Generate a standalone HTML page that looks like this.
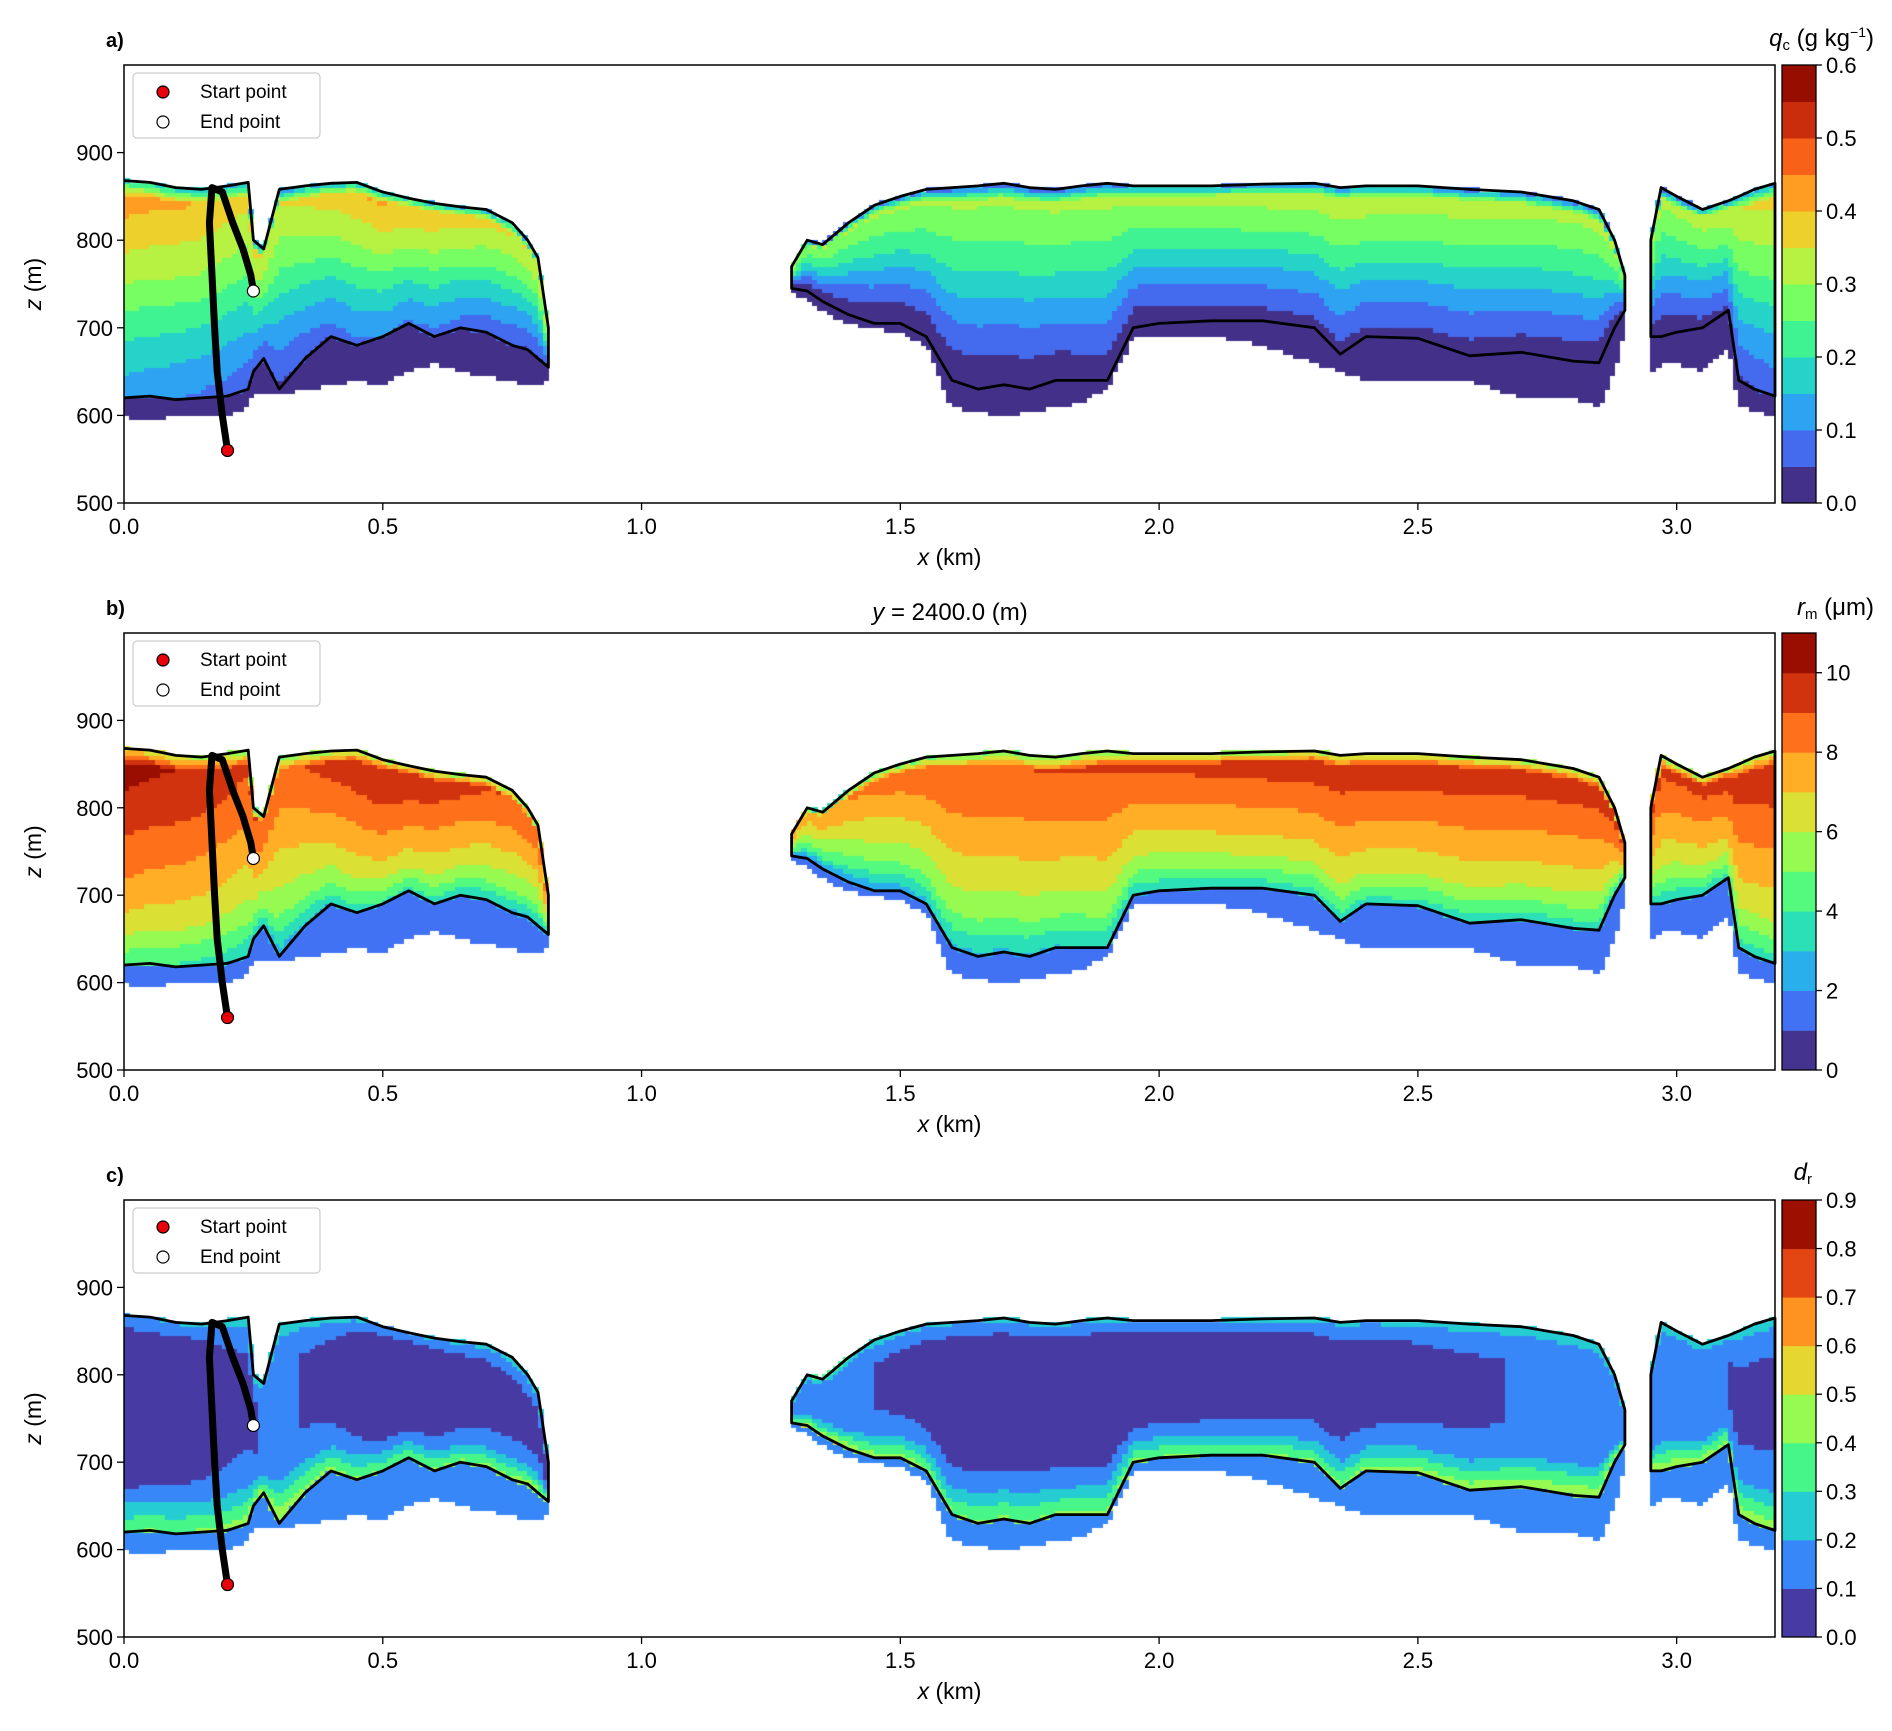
<!DOCTYPE html>
<html><head><meta charset="utf-8">
<style>
html,body{margin:0;padding:0;background:#fff;}
#wrap{position:relative;width:1892px;height:1731px;overflow:hidden;}
canvas,svg{position:absolute;left:0;top:0;}
text{font-family:"Liberation Sans","DejaVu Sans",sans-serif;fill:#000;}
</style></head>
<body>
<div id="wrap">
<canvas id="cv" width="1892" height="1731"></canvas>
<svg id="sv" width="1892" height="1731" xmlns="http://www.w3.org/2000/svg"></svg>
</div>
<script>
// ---- data ----
const seg1X=[0,0.05,0.1,0.15,0.2,0.24,0.25,0.27,0.3,0.35,0.4,0.45,0.5,0.55,0.6,0.65,0.7,0.75,0.78,0.8,0.82];
const seg1Top=[868,866,860,858,862,866,800,790,858,862,865,866,855,848,842,838,835,820,800,780,700];
const seg1Base=[620,622,618,620,622,630,650,665,630,665,690,680,690,705,690,700,695,680,675,665,655];
const seg1Haze=[598,595,600,598,600,610,625,625,625,630,635,640,635,650,660,650,645,640,635,635,640];
const seg2X=[1.29,1.32,1.35,1.4,1.45,1.5,1.55,1.6,1.65,1.7,1.75,1.8,1.85,1.9,1.95,2.0,2.1,2.2,2.3,2.35,2.4,2.5,2.6,2.7,2.8,2.85,2.88,2.9];
const seg2Top=[770,800,795,820,840,850,858,860,862,865,860,858,862,865,862,862,862,864,865,860,862,862,858,855,845,835,800,760];
const seg2Base=[745,742,730,715,705,705,690,640,630,635,630,640,640,640,700,705,708,708,700,670,690,688,668,672,662,660,700,720];
const seg2Haze=[740,735,720,705,700,695,680,610,605,600,605,610,615,630,690,690,690,680,660,650,640,640,640,620,620,610,650,700];
const seg3X=[2.95,2.97,3.0,3.05,3.1,3.12,3.15,3.19];
const seg3Top=[800,860,850,835,845,850,858,865];
const seg3Base=[690,690,695,700,720,640,630,622];
const seg3Haze=[650,660,660,650,680,610,605,600];
const profG=[0,0.2,0.4,0.6,0.8,0.93,1];
const profA=[0.04,0.1,0.17,0.25,0.31,0.35,0.1];
const profB=[3,5.5,6.8,7.8,8.8,9.2,5];
const profC=[0.42,0.12,0.04,0.04,0.04,0.1,0.22];
const belowA=0.02, belowB=1.5, belowC=0.15;
const modX=[0,0.15,0.3,0.5,0.8,1.3,1.6,2.0,2.4,2.8,3.0,3.19];
const modA=[0.08,0.05,0,0.06,0,-0.04,-0.04,-0.03,-0.01,-0.03,-0.03,0.02];
const modB=[1.2,0.6,-0.5,0.8,-0.5,-1.5,-0.3,0,0.4,0.3,0,0.5];
const modC=[-0.02,0.0,0.08,-0.02,0.05,0.12,0.0,0,0.02,0.08,0.07,0.05];
const trajX=[0.2,0.19,0.18,0.175,0.17,0.165,0.17,0.19,0.21,0.23,0.245,0.25];
const trajZ=[560,600,650,700,760,820,860,855,820,790,760,742];
const xTicks=[0,0.5,1.0,1.5,2.0,2.5,3.0];
const yTicks=[500,600,700,800,900];
const cbTicksA=[0,0.1,0.2,0.3,0.4,0.5,0.6];
const cbTicksB=[0,2,4,6,8,10];
const cbTicksC=[0,0.1,0.2,0.3,0.4,0.5,0.6,0.7,0.8,0.9];

const L=124,R=1775,XMAX=3.19,ZMIN=500,ZMAX=1000;
const panels=[
 {top:65,bot:503,prof:profA,below:belowA,mod:modA,vmax:0.6,n:12,ticks:cbTicksA,lab:'a)',fmt:v=>v.toFixed(1)},
 {top:633,bot:1070,prof:profB,below:belowB,mod:modB,vmax:11,n:11,ticks:cbTicksB,lab:'b)',fmt:v=>String(v)},
 {top:1200,bot:1637,prof:profC,below:belowC,mod:modC,vmax:0.9,n:9,ticks:cbTicksC,lab:'c)',fmt:v=>v.toFixed(1)}
];
const segs=[[seg1X,seg1Top,seg1Base,seg1Haze],[seg2X,seg2Top,seg2Base,seg2Haze],[seg3X,seg3Top,seg3Base,seg3Haze]];
function sx(x){return L+(x/XMAX)*(R-L);}
function sy(p,z){return p.bot-(z-ZMIN)/(ZMAX-ZMIN)*(p.bot-p.top);}
function interp(xs,ys,x){if(x<=xs[0])return ys[0];for(let i=1;i<xs.length;i++){if(x<=xs[i]){const t=(x-xs[i-1])/(xs[i]-xs[i-1]);return ys[i-1]+t*(ys[i]-ys[i-1]);}}return ys[ys.length-1];}
function turbo(x){x=Math.max(0,Math.min(1,x));
 const r=0.13572138+x*(4.61539260+x*(-42.66032258+x*(132.13108234+x*(-152.94239396+x*59.28637943))));
 const g=0.09140261+x*(2.19418839+x*(4.84296658+x*(-14.18503333+x*(4.27729857+x*2.82956604))));
 const b=0.10667330+x*(12.64194608+x*(-60.58204836+x*(110.36276771+x*(-89.90310912+x*27.34824973))));
 const c=v=>Math.round(Math.max(0,Math.min(1,v))*255);return `rgb(${c(r)},${c(g)},${c(b)})`;}
function bandColor(p,v){let i=Math.floor(v/p.vmax*p.n);i=Math.max(0,Math.min(p.n-1,i));return turbo((i+0.5)/p.n);}

const ctx=document.getElementById('cv').getContext('2d');
const DX=0.01,DZ=5;
panels.forEach(p=>{
 segs.forEach(s=>{
  const [xs,tp,bs,hz]=s;
  for(let x=xs[0];x<xs[xs.length-1]-1e-9;x+=DX){
   const xc=x+DX/2;const T=interp(xs,tp,xc),B=interp(xs,bs,xc),H=interp(xs,hz,xc);
   const m=interp(modX,p.mod,xc);
   const x0=Math.floor(sx(x)),x1=Math.ceil(sx(Math.min(x+DX,xs[xs.length-1])));
   for(let z=ZMIN;z<ZMAX;z+=DZ){
    const zc=z+DZ/2;if(zc<H||zc>T)continue;
    let v;
    if(zc<B)v=p.below;else{const g=(zc-B)/Math.max(1,T-B);v=interp(profG,p.prof,g)+m;}
    ctx.fillStyle=bandColor(p,v);
    const y1=Math.ceil(sy(p,z)),y0=Math.floor(sy(p,z+DZ));
    ctx.fillRect(x0,y0,x1-x0,y1-y0);
   }
  }
 });
});

const NS='http://www.w3.org/2000/svg';const svg=document.getElementById('sv');
function el(tag,attrs,parent){const e=document.createElementNS(NS,tag);for(const k in attrs)e.setAttribute(k,attrs[k]);(parent||svg).appendChild(e);return e;}
function txt(s,attrs,parent){const e=el('text',attrs,parent);e.textContent=s;return e;}
panels.forEach((p,pi)=>{
 const g=el('g',{});
 
 
 segs.forEach((s,si)=>{
  const [xs,tp,bs]=s;
  let d='M'+xs.map((x,i)=>sx(x).toFixed(1)+','+sy(p,tp[i]).toFixed(1)).join(' L');
  for(let i=xs.length-1;i>=0;i--)d+=' L'+sx(xs[i]).toFixed(1)+','+sy(p,bs[i]).toFixed(1);
  if(si!==0)d+=' Z';
  const c=el('path',{d:d,fill:'none',stroke:'#000','stroke-width':2.8,'stroke-linejoin':'round'},g);
  
  
 });
 const tr=el('polyline',{points:trajX.map((x,i)=>sx(x).toFixed(1)+','+sy(p,trajZ[i]).toFixed(1)).join(' '),fill:'none',stroke:'#000','stroke-width':7,'stroke-linejoin':'round','stroke-linecap':'round'},g);
 
 
 const sp=el('circle',{cx:sx(trajX[0]),cy:sy(p,trajZ[0]),r:6,fill:'#e8000b',stroke:'#000','stroke-width':1.2},g);
 
 
 const ep=el('circle',{cx:sx(trajX[trajX.length-1]),cy:sy(p,trajZ[trajZ.length-1]),r:6,fill:'#fff',stroke:'#000','stroke-width':1.2},g);
 
 
 const fr=el('rect',{x:L,y:p.top,width:R-L,height:p.bot-p.top,fill:'none',stroke:'#000','stroke-width':1.5},g);
 
 
 xTicks.forEach(t=>{const X=sx(t);el('line',{x1:X,x2:X,y1:p.bot,y2:p.bot+7,stroke:'#000','stroke-width':1.3},g);
  const lt=txt(t.toFixed(1),{x:X,y:p.bot+31,'font-size':22,'text-anchor':'middle'},g);
  
  });
 yTicks.forEach(t=>{const Y=sy(p,t);el('line',{x1:L-7,x2:L,y1:Y,y2:Y,stroke:'#000','stroke-width':1.3},g);
  const lt=txt(String(t),{x:L-11,y:Y+8,'font-size':22,'text-anchor':'end'},g);
  
  });
 const xl=el('text',{x:(L+R)/2,y:p.bot+62,'font-size':23,'text-anchor':'middle'},g);
 xl.innerHTML='<tspan font-style="italic">x</tspan> (km)';
 
 
 const yc=(p.top+p.bot)/2;
 const yl=el('text',{x:41,y:yc,'font-size':23,'text-anchor':'middle',transform:`rotate(-90 41 ${yc})`},g);
 yl.innerHTML='<tspan font-style="italic">z</tspan> (m)';
 
 
 const pl=txt(p.lab,{x:106,y:p.top-18,'font-size':20,'font-weight':'bold'},g);
 
 
 const lg=el('g',{},g);
 
 
 el('rect',{x:133,y:p.top+8,width:187,height:65,rx:4,fill:'#fff','fill-opacity':0.85,stroke:'#ccc','stroke-width':1.2},lg);
 el('circle',{cx:163,cy:p.top+27,r:6,fill:'#e8000b',stroke:'#000','stroke-width':1.2},lg);
 const l1=txt('Start point',{x:200,y:p.top+33,'font-size':19},lg);
 
 
 el('circle',{cx:163,cy:p.top+57,r:6,fill:'#fff',stroke:'#000','stroke-width':1.2},lg);
 const l2=txt('End point',{x:200,y:p.top+63,'font-size':19},lg);
 
 
 const cb=el('g',{},g);
 
 
 const CX=1782,CW=34,H=p.bot-p.top;
 for(let i=0;i<p.n;i++){el('rect',{x:CX,y:p.bot-(i+1)*H/p.n,width:CW,height:H/p.n+0.5,fill:turbo((i+0.5)/p.n)},cb);}
 el('rect',{x:CX,y:p.top,width:CW,height:H,fill:'none',stroke:'#000','stroke-width':1.3},cb);
 p.ticks.forEach(t=>{const Y=p.bot-t/p.vmax*H;el('line',{x1:CX+CW,x2:CX+CW+6,y1:Y,y2:Y,stroke:'#000','stroke-width':1.3},cb);
  const ct=txt(p.fmt(t),{x:CX+CW+10,y:Y+8,'font-size':22},cb);
  
  });
});
const t1=el('text',{x:1874,y:46,'font-size':24,'text-anchor':'end'});
t1.innerHTML='<tspan font-style="italic">q</tspan><tspan font-size="15" dy="4">c</tspan><tspan dy="-4"> (g kg</tspan><tspan font-size="14" dy="-9">−1</tspan><tspan dy="9">)</tspan>';


const t2=el('text',{x:1874,y:615,'font-size':24,'text-anchor':'end'});
t2.innerHTML='<tspan font-style="italic">r</tspan><tspan font-size="15" dy="4">m</tspan><tspan dy="-4"> (μm)</tspan>';


const t3=el('text',{x:1812,y:1180,'font-size':24,'text-anchor':'end'});
t3.innerHTML='<tspan font-style="italic">d</tspan><tspan font-size="15" dy="4">r</tspan>';


const tb=el('text',{x:950,y:620,'font-size':24,'text-anchor':'middle'});
tb.innerHTML='<tspan font-style="italic">y</tspan> = 2400.0 (m)';


</script>
</body></html>
